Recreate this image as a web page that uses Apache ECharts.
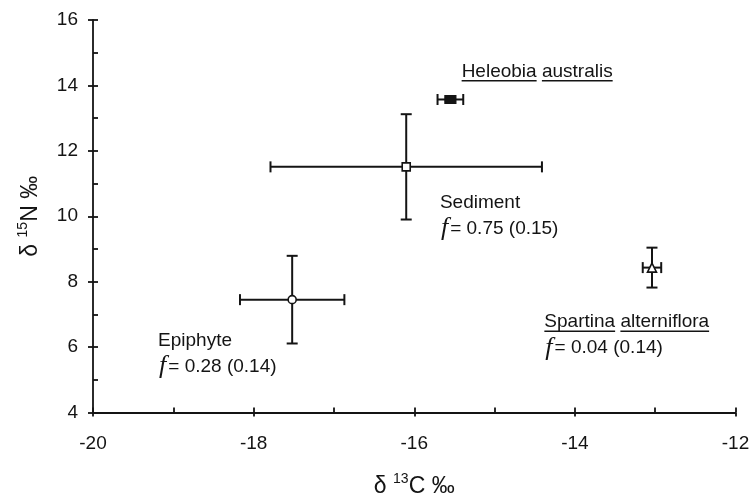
<!DOCTYPE html>
<html>
<head>
<meta charset="utf-8">
<script src="https://cdn.jsdelivr.net/npm/echarts@6/dist/echarts.min.js"></script>
<style>
html,body{margin:0;padding:0;background:#fff;}
#chart{width:751px;height:498px;}
</style>
</head>
<body>
<div id="chart"></div>
<script>
// ---- data ----
const sources   = ['Heleobia australis', 'Sediment', 'Epiphyte', 'Spartina alterniflora'];
const d13C      = [-15.55, -16.10, -17.52, -13.04];
const d13C_sd   = [0.16, 1.69, 0.65, 0.115];
const d15N      = [13.57, 11.51, 7.45, 8.43];
const d15N_sd   = [0.05, 1.61, 1.34, 0.61];
const fContrib  = ['', '0.75 (0.15)', '0.28 (0.14)', '0.04 (0.14)'];
const underlined = [true, false, false, true];
const xTicks = [-20, -18, -16, -14, -12];
const yTicks = [4, 6, 8, 10, 12, 14, 16];
// annotation anchors (data space: left edge, centre of first text line)
const labelC = [-15.41, -15.68, -19.19, -14.38];
const labelN = [14.42, 10.42, 6.20, 6.76];

const INK = '#141414';
const SANS = '"Liberation Sans", Arial, Helvetica, sans-serif';
const SERIF = '"Liberation Serif", "Times New Roman", serif';
const FS = 19;

const mctx = document.createElement('canvas').getContext('2d');
function textW(s, font){ mctx.font = font; return mctx.measureText(s).width; }

const chart = echarts.init(document.getElementById('chart'), null, {renderer:'canvas'});

const axisCommon = {
  axisLine:{show:true, onZero:false, lineStyle:{color:INK, width:1.8}},
  splitLine:{show:false}
};
const nameRich = {
  d:{fontSize:23, fontFamily:SANS, color:INK, lineHeight:28, verticalAlign:'bottom'},
  s:{fontSize:14, fontFamily:SANS, color:INK, lineHeight:28, verticalAlign:'top', padding:[2,0,0,0]}
};

const option = {
  backgroundColor:'#fff',
  animation:false,
  grid:{left:93, right:15.5, top:20, bottom:85.5, containLabel:false, outerBoundsMode:'none'},
  xAxis:[
    Object.assign({}, axisCommon, {
      type:'value', min:xTicks[0], max:xTicks[xTicks.length-1], interval:2, position:'bottom',
      axisTick:{show:true, inside:false, length:4, lineStyle:{color:INK, width:1.8}},
      axisLabel:{color:INK, fontSize:FS, fontFamily:SANS, margin:22},
      name:'{d|δ }{s|13}{d|C ‰}', nameLocation:'middle', nameGap:58,
      nameTextStyle:{rich:nameRich}
    }),
    {
      type:'value', min:xTicks[0], max:xTicks[xTicks.length-1], interval:1, position:'bottom',
      axisLine:{show:false}, splitLine:{show:false}, axisLabel:{show:false},
      axisTick:{show:true, inside:true, length:5, lineStyle:{color:INK, width:1.8}}
    }
  ],
  yAxis:[
    Object.assign({}, axisCommon, {
      type:'value', min:yTicks[0], max:yTicks[yTicks.length-1], interval:2, position:'left',
      axisTick:{show:true, inside:false, length:5, lineStyle:{color:INK, width:1.8}},
      axisLabel:{color:INK, fontSize:FS, fontFamily:SANS, margin:15},
      name:'{d|δ }{s|15}{d|N ‰}', nameLocation:'middle', nameGap:51,
      nameTextStyle:{rich:nameRich}
    }),
    {
      type:'value', min:yTicks[0], max:yTicks[yTicks.length-1], interval:1, position:'left',
      axisLine:{show:false}, splitLine:{show:false}, axisLabel:{show:false},
      axisTick:{show:true, inside:true, length:5, lineStyle:{color:INK, width:1.8}}
    }
  ],
  series:[
    {
      type:'custom', name:'errorbars', xAxisIndex:0, yAxisIndex:0, silent:true, clip:false, z:2,
      data: sources.map((s,i)=>[d13C[i], d15N[i], d13C_sd[i], d15N_sd[i]]),
      renderItem:function(params, api){
        const x=api.value(0), y=api.value(1), ex=api.value(2), ey=api.value(3);
        const l=api.coord([x-ex,y]), r=api.coord([x+ex,y]);
        const t=api.coord([x,y+ey]), b=api.coord([x,y-ey]);
        const cap=5.5;
        const st={stroke:INK, lineWidth:2};
        const L=(x1,y1,x2,y2)=>({type:'line', shape:{x1,y1,x2,y2}, style:st});
        return {type:'group', children:[
          L(l[0],l[1],r[0],r[1]),
          L(l[0],l[1]-cap,l[0],l[1]+cap),
          L(r[0],r[1]-cap,r[0],r[1]+cap),
          L(t[0],t[1],b[0],b[1]),
          L(t[0]-cap,t[1],t[0]+cap,t[1]),
          L(b[0]-cap,b[1],b[0]+cap,b[1])
        ]};
      }
    },
    {
      type:'scatter', name:'Heleobia australis', z:3, silent:true,
      data:[[d13C[0], d15N[0]]], symbol:'rect', symbolSize:[11,8],
      itemStyle:{color:INK, borderColor:INK, borderWidth:1, opacity:1}
    },
    {
      type:'scatter', name:'Sediment', z:3, silent:true,
      data:[[d13C[1], d15N[1]]], symbol:'rect', symbolSize:8,
      itemStyle:{color:'#fff', borderColor:INK, borderWidth:1.6, opacity:1}
    },
    {
      type:'scatter', name:'Epiphyte', z:3, silent:true,
      data:[[d13C[2], d15N[2]]], symbol:'circle', symbolSize:8,
      itemStyle:{color:'#fff', borderColor:INK, borderWidth:1.6, opacity:1}
    },
    {
      type:'scatter', name:'Spartina alterniflora', z:3, silent:true,
      data:[[d13C[3], d15N[3]]], symbol:'triangle', symbolSize:[9,9],
      itemStyle:{color:'#fff', borderColor:INK, borderWidth:1.6, opacity:1}
    },
    {
      type:'custom', name:'annotations', xAxisIndex:0, yAxisIndex:0, silent:true, clip:false, z:4,
      data: sources.map((s,i)=>[labelC[i], labelN[i], i]),
      renderItem:function(params, api){
        const i=api.value(2);
        const p=api.coord([api.value(0), api.value(1)]);
        const font = FS+'px '+SANS;
        const children=[];
        const words = sources[i].split(' ');
        let x=p[0];
        const spaceW = textW(' ', font);
        if (underlined[i]) {
          words.forEach((w)=>{
            const ww=textW(w, font);
            children.push({type:'text', x:x, y:p[1], style:{text:w, font:font, fill:INK, textAlign:'left', textVerticalAlign:'middle'}});
            children.push({type:'line', shape:{x1:x, y1:p[1]+9, x2:x+ww, y2:p[1]+9}, style:{stroke:INK, lineWidth:1.4}});
            x += ww + spaceW;
          });
        } else {
          children.push({type:'text', x:x, y:p[1], style:{text:sources[i], font:font, fill:INK, textAlign:'left', textVerticalAlign:'middle'}});
        }
        if (fContrib[i]) {
          children.push({type:'text', x:p[0]+1, y:p[1]+26, style:{
            text:'{i|f}{n|= '+fContrib[i]+'}',
            textAlign:'left', textVerticalAlign:'middle',
            rich:{
              i:{fontFamily:SERIF, fontStyle:'italic', fontSize:26, fill:INK, padding:[0,2,0,0]},
              n:{fontFamily:SANS, fontSize:FS, fill:INK}
            }
          }});
        }
        return {type:'group', children:children};
      }
    }
  ]
};
chart.setOption(option);
</script>
</body>
</html>
